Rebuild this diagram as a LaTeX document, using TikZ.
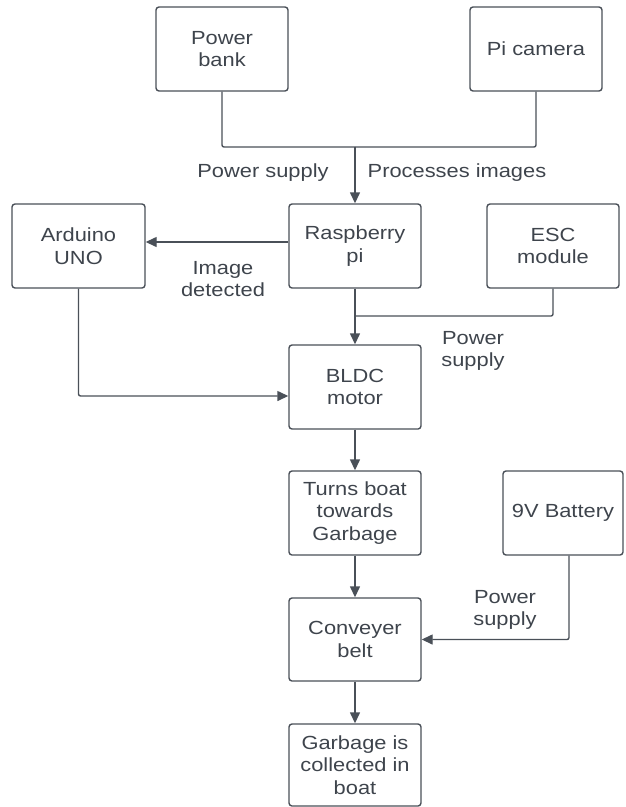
\documentclass[tikz,border=0pt]{standalone}
\usepackage{fontspec}
\setmainfont{Liberation Sans}[FakeStretch=1.15]
\usepackage{tikz}
\usetikzlibrary{arrows.meta}
\definecolor{lineclr}{RGB}{74,80,88}
\definecolor{textclr}{RGB}{62,68,76}

\begin{document}
\begin{tikzpicture}[x=1pt,y=-1pt,
    block/.style={draw=lineclr,line width=1.4pt,rounded corners=3pt,
      minimum width=132pt,minimum height=84pt,align=center,text=textclr,
      font=\fontsize{19}{22.5}\selectfont},
    lbl/.style={align=center,text=textclr,font=\fontsize{19}{22.5}\selectfont},
    link/.style={draw=lineclr,line width=1.4pt,rounded corners=2pt},
    arr/.style={link,-{Triangle[length=11pt,width=10pt]}}]
          \useasboundingbox (0,0) rectangle (626,807);
          % top row
          \node[block] (bank) at (222,49) {Power\\bank};
          \node[block] (camera) at (536,49) {Pi camera};
          % middle row
          \node[block,minimum width=133pt] (arduino) at (78.5,246) {Arduino\\UNO};
          \node[block] (rpi) at (355,246) {Raspberry\\pi};
          \node[block] (esc) at (553,246) {ESC\\module};
          % main column
          \node[block] (bldc) at (355,387) {BLDC\\motor};
          \node[block] (turns) at (355,513) {Turns boat\\towards\\Garbage};
          \node[block,minimum width=120pt] (battery) at (563,513) {9V Battery};
          \node[block,minimum height=83pt] (belt) at (355,639.5) {Conveyer\\belt};
          \node[block,minimum height=82pt] (garbage) at (355,765) {Garbage is\\collected in\\boat};
          % joins
          \coordinate (topjoin) at (355,147);
          \coordinate (escjoin) at (355,316);
          % power bank and camera into the pi
          \draw[link] (bank.south) |- (topjoin);
          \draw[link] (camera.south) |- (topjoin);
          \draw[arr] (topjoin) -- (rpi.north);
          \node[lbl] (lblbank) at (263,173) {Power supply};
          \node[lbl] (lblcam) at (457,173) {Processes images};
          % pi to arduino
          \draw[arr] ([yshift=4pt]rpi.west) -- ([yshift=4pt]arduino.east);
          \node[lbl] (lbldetect) at (223,279) {Image\\detected};
          % pi and esc to motor
          \draw[link] (esc.south) |- (escjoin);
          \draw[arr] (rpi.south) -- (bldc.north);
          \node[lbl] (lblesc) at (473,351) {Power\\supply};
          % arduino to motor
          \draw[arr] (arduino.south) |- ([yshift=-9pt]bldc.west);
          % down the column
          \draw[arr] (bldc.south) -- (turns.north);
          \draw[arr] (turns.south) -- (belt.north);
          \draw[arr] (belt.south) -- (garbage.north);
          % battery to belt
          \draw[arr] ([xshift=6pt]battery.south) |- (belt.east);
          \node[lbl] (lblbat) at (505,610) {Power\\supply};
        \end{tikzpicture}
\end{document}
